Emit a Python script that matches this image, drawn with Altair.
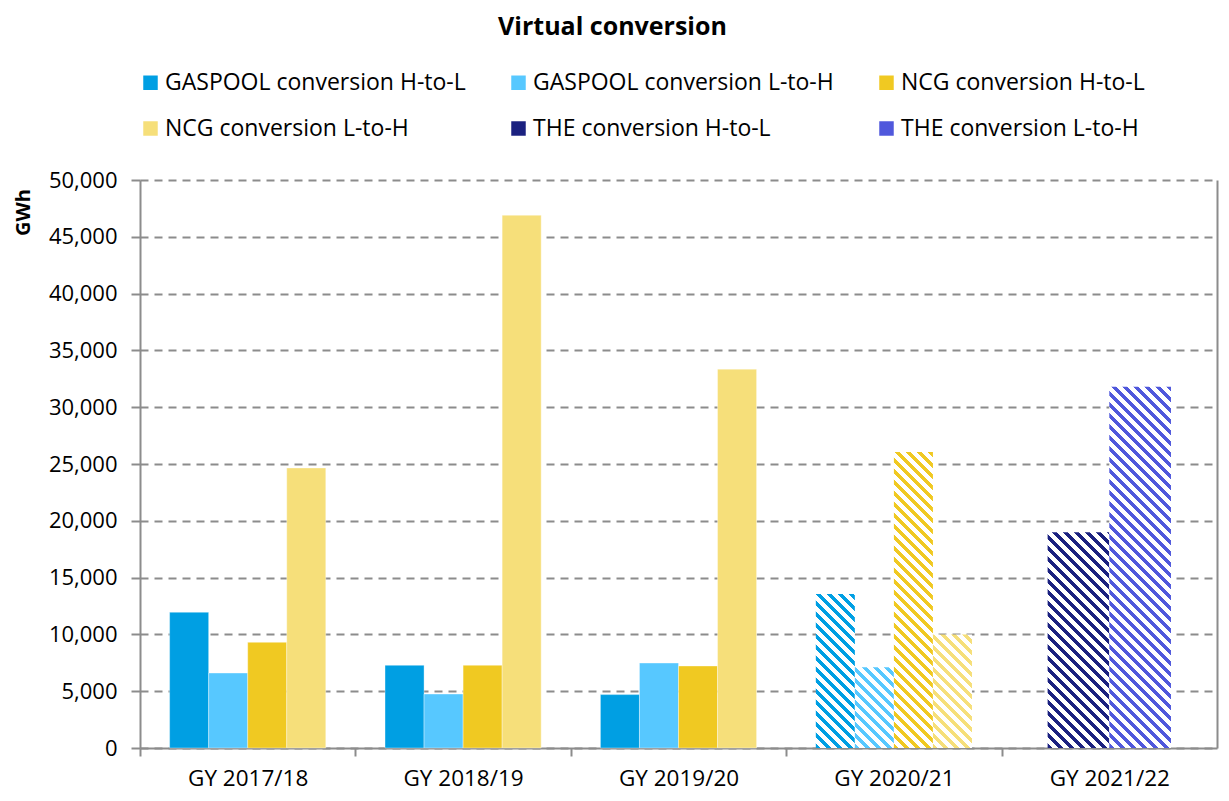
import math
import altair as alt
import pandas as pd

years = ["GY 2017/18", "GY 2018/19", "GY 2019/20", "GY 2020/21", "GY 2021/22"]
series = [
    "GASPOOL conversion H-to-L",
    "GASPOOL conversion L-to-H",
    "NCG conversion H-to-L",
    "NCG conversion L-to-H",
    "THE conversion H-to-L",
    "THE conversion L-to-H",
]
gaspool_h2l = [11950, 7280, 4700, 13550, None]
gaspool_l2h = [6600, 4750, 7480, 7100, None]
ncg_h2l = [9300, 7280, 7220, 26050, None]
ncg_l2h = [24650, 46900, 33350, 10000, None]
the_h2l = [None, None, None, None, 19000]
the_l2h = [None, None, None, None, 31800]
hatched_years = ["GY 2020/21", "GY 2021/22"]

colors = ["#009fe3", "#57c8ff", "#f0c922", "#f6df7a", "#1b2180", "#5058dc"]

values = [gaspool_h2l, gaspool_l2h, ncg_h2l, ncg_l2h, the_h2l, the_l2h]
rows = []
for s, vals in zip(series, values):
    for y, v in zip(years, vals):
        if v is not None:
            rows.append({"year": y, "series": s, "value": v, "hatched": y in hatched_years})
df = pd.DataFrame(rows)

W, H = 1077, 568
YMAX = 50000
PAD_IN = 0.275
PAD_THE = 0.266
step = W / 5
band = step * (1 - PAD_IN)
font = "Open Sans"
grey = "#8c8c8c"

x_enc = alt.X(
    "year:N",
    sort=years,
    title=None,
    scale=alt.Scale(paddingInner=PAD_IN, paddingOuter=PAD_IN / 2),
    axis=alt.Axis(
        labelFontSize=22.5, labelColor="#000000", labelPadding=11, labelAngle=0,
        tickOffset=-step / 2, labelOffset=step / 2,
        tickSize=8, tickColor=grey, tickWidth=2,
        domainColor=grey, domainWidth=2,
    ),
)
y_enc = alt.Y(
    "value:Q",
    title="GWh",
    scale=alt.Scale(domain=[0, YMAX], nice=False),
    axis=alt.Axis(
        values=list(range(0, YMAX + 1, 5000)), format=",d",
        labelFontSize=22, labelColor="#000000", labelPadding=14,
        tickSize=9, tickColor=grey, tickWidth=2,
        domainColor=grey, domainWidth=2,
        grid=True, gridColor=grey, gridDash=[8, 6], gridWidth=2,
        titleFontSize=20, titleFontWeight="bold", titleColor="#000000",
        titleAngle=-90, titleX=-117, titleY=32, titleAlign="center", titleBaseline="middle",
    ),
)

main_series = series[:4]
the_series = series[4:]

solid = alt.Chart(df).transform_filter("!datum.hatched").mark_bar(
    stroke="#ffffff", strokeWidth=0.6, strokeOpacity=0.6
).encode(
    x=x_enc,
    xOffset=alt.XOffset("series:N", scale=alt.Scale(domain=main_series, paddingInner=0, paddingOuter=0)),
    y=y_enc,
    color=alt.Color(
        "series:N",
        scale=alt.Scale(domain=series, range=colors),
        legend=alt.Legend(
            title=None, orient="none", legendX=-1, legendY=-109, columns=3, direction="horizontal",
            symbolType="square", symbolSize=210, symbolStrokeWidth=0,
            labelFontSize=23, labelColor="#000000", labelLimit=500, labelOffset=3,
            columnPadding=41, rowPadding=22, gridAlign="all",
        ),
    ),
)


def hatch(color, w, h, period=11.0, on=5.0):
    L = w + h
    k = L / (w * w + h * h)
    stops = []
    n = int(math.ceil(L / period)) + 1
    for i in range(n):
        s0 = i * period
        s1 = s0 + on
        s2 = s0 + period
        if s0 / L > 1:
            break
        a, b, c = s0 / L, min(s1 / L, 1.0), min(s2 / L, 1.0)
        stops.append({"offset": a, "color": color})
        stops.append({"offset": b, "color": color})
        if b < 1:
            stops.append({"offset": b, "color": "#ffffff"})
            stops.append({"offset": c, "color": "#ffffff"})
    return {"gradient": "linear", "x1": 0, "y1": 1, "x2": k * w, "y2": 1 - k * h, "stops": stops}


hatched_layers = []
for _, r in df[df["hatched"]].iterrows():
    idx = series.index(r["series"])
    if r["series"] in the_series:
        dom, po = the_series, PAD_THE
        w = band / (2 + 2 * PAD_THE)
    else:
        dom, po = main_series, 0
        w = band / 4
    h = r["value"] / YMAX * H
    layer = alt.Chart(df).transform_filter(
        alt.FieldEqualPredicate(field="year", equal=r["year"])
    ).transform_filter(
        alt.FieldEqualPredicate(field="series", equal=r["series"])
    ).mark_bar(fill=hatch(colors[idx], w, h)).encode(
        x=x_enc,
        xOffset=alt.XOffset("series:N", scale=alt.Scale(domain=dom, paddingInner=0, paddingOuter=po)),
        y=y_enc,
    )
    hatched_layers.append(layer)

bars = alt.layer(solid, *hatched_layers).resolve_scale(xOffset="independent")

border = alt.Chart(df).mark_point(opacity=0).encode(
    x=x_enc,
    y=alt.Y("value:Q", scale=alt.Scale(domain=[0, YMAX], nice=False),
            axis=alt.Axis(orient="right", labels=False, ticks=False, grid=False,
                          domainColor=grey, domainWidth=2, title=None)),
)

chart = alt.layer(bars, border).resolve_scale(y="independent").properties(
    width=W, height=H,
    title=alt.TitleParams("Virtual conversion", fontSize=25, fontWeight="bold", color="#000000",
                          anchor="middle", dx=-66, dy=-31, offset=0),
    autosize=alt.AutoSizeParams(type="none"),
    padding={"left": 132, "top": 172, "right": 4, "bottom": 45},
).configure(font=font).configure_view(stroke=None)

chart.save("out.html", embed_options={"renderer": "svg", "actions": False})
